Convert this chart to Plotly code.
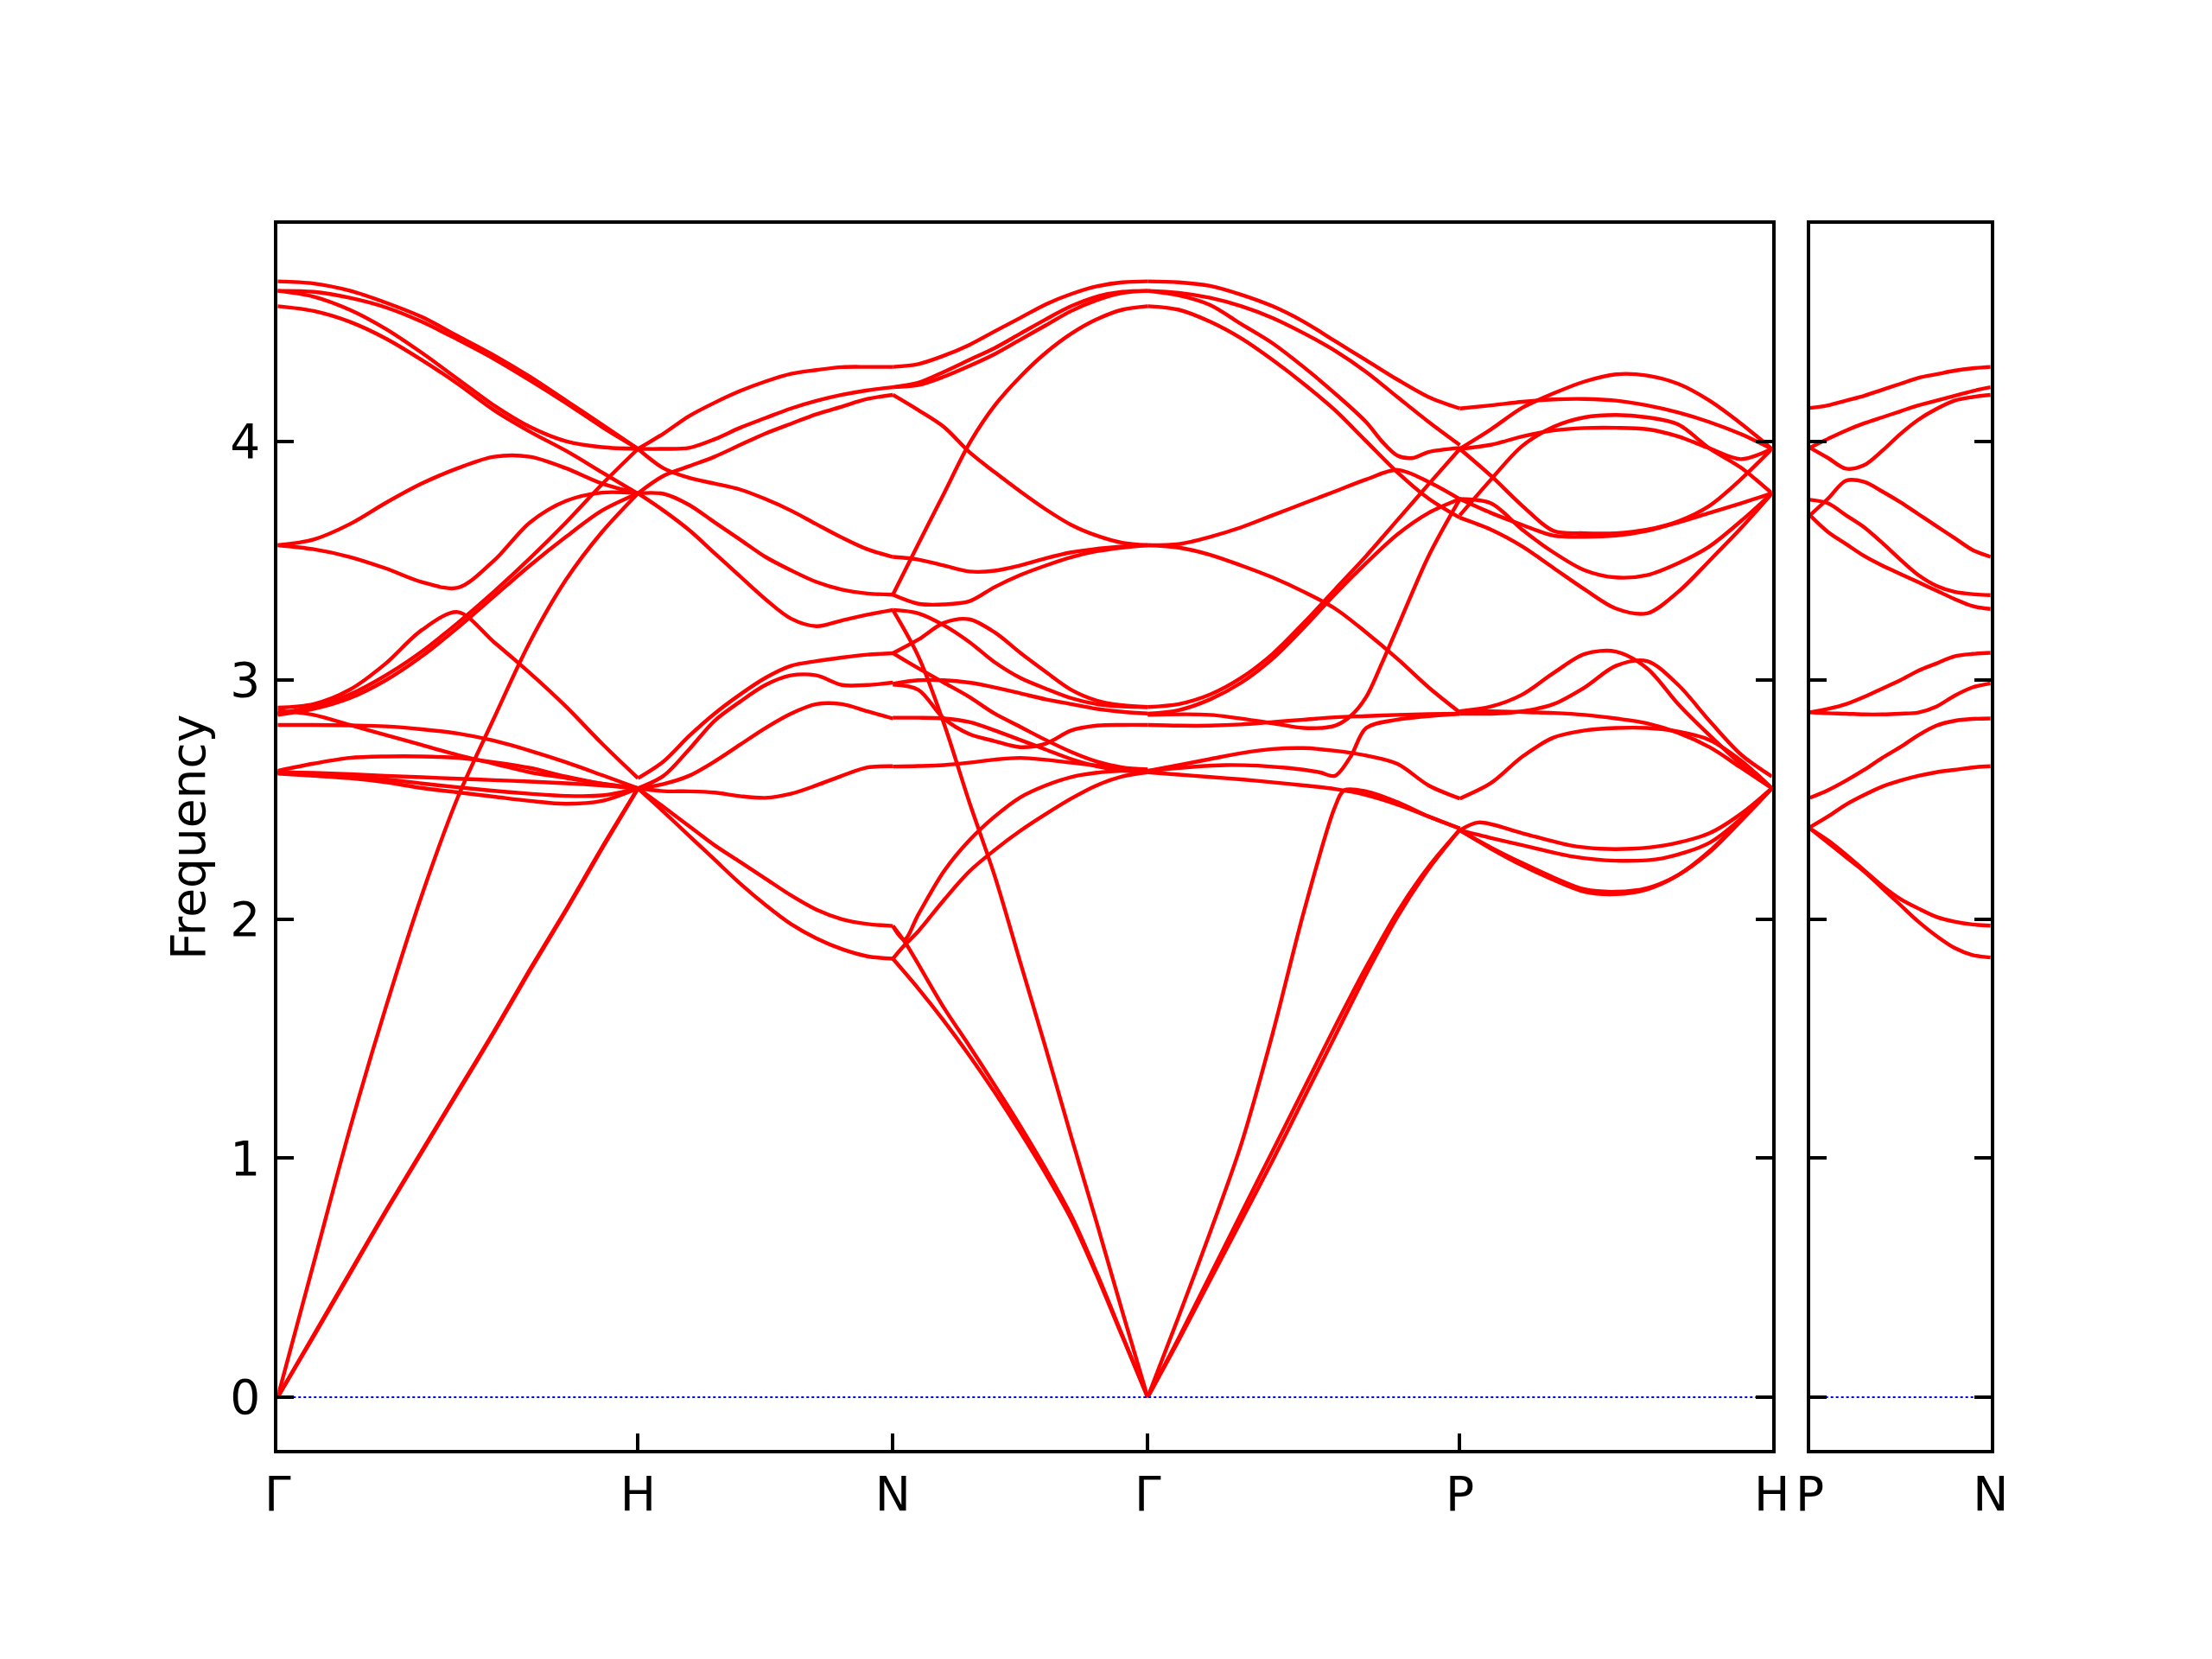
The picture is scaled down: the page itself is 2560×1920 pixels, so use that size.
import plotly.graph_objects as go

FONT = "DejaVu Sans"
RED = "#ff0000"

# ---------------- path / tick data ----------------
main_labels = ["Γ", "H", "N", "Γ", "P", "H"]
main_ticks = [0.0, 1.0, 1.70711, 2.41421, 3.28024, 4.14626]
side_labels = ["P", "N"]
side_ticks = [0.0, 0.5]
y_ticks = [0, 1, 2, 3, 4]
y_range = [-0.222, 4.909]

# common fractional sampling grid along each path segment
grid = [0.0, 0.1, 0.2, 0.3, 0.4, 0.5, 0.6, 0.7, 0.8, 0.9, 1.0]

# ---------------- band values ----------------
# Segment Γ-H
seg_GH = {
    "U1": [4.669, 4.66, 4.63, 4.58, 4.52, 4.44, 4.36, 4.27, 4.17, 4.07, 3.968],
    "U2": [4.629, 4.625, 4.60, 4.56, 4.50, 4.425, 4.345, 4.255, 4.16, 4.06, 3.968],
    "U3": [4.629, 4.605, 4.55, 4.47, 4.37, 4.26, 4.15, 4.06, 4.0, 3.975, 3.968],
    "U4": [4.565, 4.545, 4.50, 4.43, 4.34, 4.24, 4.13, 4.04, 3.96, 3.87, 3.78],
    "P1": [3.565, 3.589, 3.653, 3.742, 3.823, 3.887, 3.935, 3.935, 3.887, 3.823, 3.782],
    "P2": [3.565, 3.548, 3.516, 3.468, 3.411, 3.387, 3.50, 3.66, 3.75, 3.785, 3.782],
    "P3": [2.885, 2.90, 2.96, 3.07, 3.21, 3.285, 3.16, 3.03, 2.89, 2.735, 2.59],
    "P4": [2.86, 2.89, 2.94, 3.02, 3.12, 3.24, 3.37, 3.51, 3.66, 3.82, 3.968],
    "P5": [2.855, 2.88, 2.925, 3.0, 3.10, 3.22, 3.35, 3.48, 3.6, 3.71, 3.782],
    "LA": [0.0, 0.56, 1.12, 1.63, 2.1, 2.51, 2.84, 3.16, 3.42, 3.62, 3.782],
    "TA1": [0.0, 0.26, 0.52, 0.78, 1.03, 1.28, 1.53, 1.79, 2.04, 2.30, 2.548],
    "TA2": [0.0, 0.255, 0.515, 0.775, 1.025, 1.275, 1.525, 1.785, 2.035, 2.295, 2.548],
    "L1": [2.873, 2.855, 2.813, 2.771, 2.729, 2.687, 2.651, 2.615, 2.591, 2.567, 2.548],
    "L2": [2.813, 2.813, 2.811, 2.807, 2.795, 2.777, 2.747, 2.705, 2.657, 2.603, 2.548],
    "L3": [2.621, 2.651, 2.675, 2.681, 2.681, 2.675, 2.657, 2.633, 2.597, 2.567, 2.548],
    "L4": [2.615, 2.612, 2.607, 2.6, 2.594, 2.588, 2.582, 2.576, 2.569, 2.56, 2.548],
    "L5": [2.609, 2.60, 2.59, 2.573, 2.549, 2.531, 2.513, 2.495, 2.483, 2.495, 2.548],
    "L6": [2.612, 2.607, 2.597, 2.585, 2.568, 2.552, 2.537, 2.525, 2.516, 2.518, 2.548],
}

# Segment H-N
seg_HN = {
    "H1": [3.968, 4.032, 4.105, 4.161, 4.21, 4.25, 4.282, 4.298, 4.31, 4.311, 4.311],
    "H2": [3.968, 3.968, 3.972, 4.008, 4.056, 4.097, 4.137, 4.169, 4.194, 4.213, 4.226],
    "H3": [3.782, 3.855, 3.895, 3.935, 3.984, 4.032, 4.073, 4.113, 4.145, 4.177, 4.194],
    "H4": [3.968, 3.887, 3.847, 3.823, 3.798, 3.758, 3.71, 3.653, 3.597, 3.548, 3.516],
    "H5": [3.782, 3.78, 3.734, 3.661, 3.589, 3.516, 3.46, 3.411, 3.379, 3.363, 3.358],
    "H6": [3.782, 3.71, 3.629, 3.532, 3.435, 3.339, 3.258, 3.226, 3.25, 3.274, 3.294],
    "H7": [2.59, 2.66, 2.766, 2.86, 2.94, 3.01, 3.06, 3.08, 3.095, 3.107, 3.113],
    "H8": [2.548, 2.6, 2.71, 2.83, 2.91, 2.98, 3.02, 3.02, 2.98, 2.98, 2.99],
    "H9": [2.548, 2.566, 2.6, 2.66, 2.73, 2.8, 2.86, 2.9, 2.9, 2.87, 2.84],
    "H10": [2.548, 2.536, 2.535, 2.53, 2.515, 2.508, 2.525, 2.56, 2.6, 2.635, 2.64],
    "AC1": [2.548, 2.47, 2.39, 2.31, 2.24, 2.17, 2.10, 2.04, 2.0, 1.98, 1.972],
    "AC2": [2.548, 2.45, 2.35, 2.25, 2.15, 2.06, 1.98, 1.92, 1.875, 1.845, 1.835],
}

# Segment N-Γ
seg_NG = {
    "G1": [4.311, 4.323, 4.358, 4.403, 4.46, 4.516, 4.573, 4.616, 4.648, 4.665, 4.669],
    "G2": [4.226, 4.245, 4.29, 4.34, 4.39, 4.45, 4.51, 4.565, 4.605, 4.625, 4.629],
    "G3": [4.226, 4.235, 4.27, 4.315, 4.365, 4.425, 4.485, 4.545, 4.59, 4.62, 4.629],
    "G4": [3.358, 3.57, 3.78, 3.99, 4.15, 4.27, 4.37, 4.45, 4.51, 4.55, 4.565],
    "G5": [4.194, 4.13, 4.06, 3.955, 3.87, 3.79, 3.715, 3.65, 3.605, 3.575, 3.565],
    "G6": [3.516, 3.505, 3.48, 3.455, 3.458, 3.48, 3.51, 3.535, 3.55, 3.56, 3.565],
    "G7": [3.358, 3.32, 3.317, 3.33, 3.39, 3.44, 3.48, 3.515, 3.54, 3.555, 3.565],
    "G8": [3.113, 3.17, 3.24, 3.255, 3.2, 3.115, 3.035, 2.96, 2.915, 2.895, 2.888],
    "G13": [3.294, 3.28, 3.23, 3.16, 3.075, 3.01, 2.965, 2.925, 2.9, 2.89, 2.888],
    "G14": [2.985, 3.0, 3.0, 2.99, 2.97, 2.945, 2.92, 2.9, 2.88, 2.868, 2.861],
    "G9": [3.113, 3.05, 2.99, 2.93, 2.86, 2.805, 2.75, 2.7, 2.66, 2.635, 2.627],
    "G10": [2.982, 2.96, 2.84, 2.775, 2.745, 2.72, 2.735, 2.79, 2.81, 2.813, 2.813],
    "G11": [2.843, 2.843, 2.84, 2.825, 2.79, 2.75, 2.71, 2.67, 2.64, 2.622, 2.615],
    "G12": [2.639, 2.641, 2.645, 2.655, 2.668, 2.675, 2.667, 2.655, 2.643, 2.63, 2.62],
    "R1": ([0, .045, .1, .2, .3, .4, .5, .6, .7, .8, .9, 1.0],
           [1.972, 1.915, 2.02, 2.2, 2.33, 2.43, 2.51, 2.56, 2.595, 2.613, 2.621, 2.625]),
    "R2": ([0, .04, .1, .2, .3, .4, .5, .6, .7, .8, .9, 1.0],
           [1.835, 1.885, 1.95, 2.08, 2.2, 2.29, 2.37, 2.44, 2.505, 2.56, 2.597, 2.615]),
    "D1": [1.835, 1.71, 1.575, 1.43, 1.275, 1.11, 0.935, 0.745, 0.51, 0.255, 0.0],
    "D2": ([0, .05, .2, .3, .4, .5, .6, .7, .8, .9, 1.0],
           [1.972, 1.9, 1.63, 1.47, 1.305, 1.135, 0.955, 0.76, 0.52, 0.26, 0.0]),
    "LA2": [3.294, 3.1, 2.82, 2.49, 2.18, 1.82, 1.46, 1.09, 0.73, 0.36, 0.0],
}

# Segment Γ-P
seg_GP = {
    "T1": [4.669, 4.665, 4.65, 4.613, 4.565, 4.5, 4.419, 4.339, 4.258, 4.185, 4.137],
    "T2": [4.629, 4.621, 4.6, 4.565, 4.516, 4.452, 4.379, 4.29, 4.185, 4.081, 3.984],
    "T3": ([0, .1, .2, .3, .4, .5, .6, .7, .75, .8, .85, .9, 1.0],
           [4.629, 4.61, 4.57, 4.49, 4.41, 4.31, 4.2, 4.08, 4.0, 3.94, 3.93, 3.955, 3.972]),
    "T4": [4.565, 4.55, 4.5, 4.43, 4.34, 4.24, 4.13, 4.0, 3.87, 3.76, 3.68],
    "M1": [3.565, 3.57, 3.6, 3.64, 3.69, 3.74, 3.79, 3.84, 3.88, 3.83, 3.758],
    "M2": [3.565, 3.555, 3.525, 3.48, 3.43, 3.37, 3.3, 3.2, 3.09, 2.97, 2.865],
    "PP1": [2.888, 2.9, 2.94, 3.01, 3.11, 3.24, 3.38, 3.52, 3.67, 3.82, 3.968],
    "PP2": [2.86, 2.875, 2.92, 2.99, 3.09, 3.22, 3.36, 3.49, 3.61, 3.7, 3.758],
    "Q1": ([0, .1, .2, .3, .4, .5, .6, .63, .7, .8, .9, 1.0],
           [0.0, 0.34, 0.69, 1.06, 1.52, 2.03, 2.47, 2.54, 2.535, 2.49, 2.43, 2.38]),
    "Q2": ([0, .25, .45, .55, .6, .65, .7, .8, 1.0],
           [2.621, 2.645, 2.633, 2.615, 2.6, 2.68, 2.8, 2.835, 2.86]),
    "Q3": ([0, .2, .4, .5, .6, .65, .7, .75, .8, .9, 1.0],
           [2.855, 2.855, 2.82, 2.8, 2.81, 2.85, 2.93, 3.07, 3.22, 3.52, 3.758]),
    "Q4": [2.813, 2.81, 2.81, 2.815, 2.825, 2.835, 2.845, 2.85, 2.855, 2.858, 2.86],
    "Q5": [2.621, 2.645, 2.67, 2.695, 2.712, 2.716, 2.705, 2.685, 2.65, 2.56, 2.505],
    "Q6": [2.615, 2.605, 2.595, 2.585, 2.573, 2.56, 2.545, 2.52, 2.48, 2.43, 2.38],
    "TA3": [0.0, 0.25, 0.51, 0.77, 1.03, 1.29, 1.55, 1.8, 2.03, 2.22, 2.375],
    "TA4": [0.0, 0.24, 0.49, 0.74, 0.99, 1.25, 1.51, 1.77, 2.01, 2.21, 2.375],
}

# Segment P-H
seg_PH = {
    "PH1": [4.137, 4.15, 4.165, 4.175, 4.177, 4.17, 4.15, 4.12, 4.08, 4.03, 3.968],
    "PH2": [3.968, 4.05, 4.14, 4.2, 4.25, 4.28, 4.275, 4.24, 4.17, 4.075, 3.968],
    "PH3": [3.968, 3.985, 4.02, 4.045, 4.055, 4.056, 4.05, 4.02, 3.97, 3.925, 3.968],
    "PH4": [3.69, 3.84, 3.98, 4.06, 4.1, 4.11, 4.1, 4.07, 3.97, 3.89, 3.782],
    "PH5": [3.968, 3.855, 3.73, 3.625, 3.615, 3.615, 3.63, 3.665, 3.73, 3.84, 3.968],
    "PH6": [3.758, 3.7, 3.65, 3.605, 3.6, 3.605, 3.625, 3.66, 3.7, 3.74, 3.782],
    "PH7": [3.758, 3.74, 3.63, 3.535, 3.46, 3.43, 3.44, 3.49, 3.56, 3.665, 3.782],
    "PH8": [3.68, 3.63, 3.56, 3.47, 3.38, 3.3, 3.28, 3.37, 3.5, 3.635, 3.782],
    "PH9": [2.87, 2.89, 2.94, 3.03, 3.11, 3.12, 3.05, 2.9, 2.77, 2.65, 2.548],
    "PH10": [2.86, 2.86, 2.87, 2.9, 2.97, 3.06, 3.08, 2.98, 2.83, 2.69, 2.597],
    "PH11": [2.87, 2.87, 2.867, 2.863, 2.855, 2.84, 2.82, 2.78, 2.72, 2.635, 2.548],
    "PH12": [2.505, 2.57, 2.68, 2.76, 2.79, 2.8, 2.8, 2.785, 2.75, 2.665, 2.548],
    "PHa": ([0, .06, .2, .35, .45, .55, .66, .8, .9, 1.0],
            [2.372, 2.405, 2.36, 2.31, 2.295, 2.295, 2.31, 2.36, 2.44, 2.548]),
    "PHb": ([0, .1, .2, .35, .5, .65, .8, .9, 1.0],
            [2.372, 2.34, 2.31, 2.265, 2.245, 2.255, 2.32, 2.42, 2.548]),
    "PHc": [2.372, 2.3, 2.235, 2.175, 2.125, 2.115, 2.13, 2.185, 2.28, 2.41, 2.548],
    "PHd": [2.372, 2.295, 2.225, 2.165, 2.115, 2.105, 2.125, 2.185, 2.285, 2.415, 2.548],
}

# Side panel P-N
seg_PN = {
    "PN1": [4.139, 4.15, 4.17, 4.19, 4.215, 4.24, 4.265, 4.28, 4.295, 4.305, 4.311],
    "PN2": [3.973, 4.01, 4.045, 4.075, 4.1, 4.125, 4.15, 4.17, 4.19, 4.21, 4.226],
    "PN3": [3.973, 3.93, 3.885, 3.9, 3.96, 4.03, 4.09, 4.135, 4.17, 4.185, 4.194],
    "PN4": [3.69, 3.76, 3.835, 3.83, 3.79, 3.745, 3.695, 3.645, 3.595, 3.545, 3.516],
    "PN5": [3.755, 3.74, 3.69, 3.64, 3.575, 3.505, 3.44, 3.395, 3.37, 3.36, 3.356],
    "PN6": [3.69, 3.62, 3.57, 3.52, 3.48, 3.445, 3.41, 3.375, 3.34, 3.31, 3.298],
    "PN7": [2.866, 2.88, 2.9, 2.93, 2.965, 3.0, 3.04, 3.07, 3.1, 3.11, 3.115],
    "PN8": [2.866, 2.862, 2.86, 2.857, 2.857, 2.86, 2.865, 2.89, 2.935, 2.97, 2.987],
    "PN9": [2.508, 2.54, 2.58, 2.625, 2.675, 2.72, 2.77, 2.81, 2.83, 2.838, 2.84],
    "PN10": [2.385, 2.43, 2.48, 2.52, 2.555, 2.58, 2.6, 2.615, 2.625, 2.635, 2.64],
    "PN11": [2.38, 2.33, 2.27, 2.205, 2.14, 2.085, 2.045, 2.01, 1.99, 1.978, 1.973],
    "PN12": [2.38, 2.32, 2.26, 2.2, 2.13, 2.06, 1.99, 1.93, 1.88, 1.85, 1.84],
}

main_segments = [seg_GH, seg_HN, seg_NG, seg_GP, seg_PH]

# ---------------- figure ----------------
fig = go.Figure()


def add_segment(seg, x0, x1, xa, ya):
    for name, data in seg.items():
        if isinstance(data, tuple):
            fr, vals = data
        else:
            fr, vals = grid, data
        xs = [x0 + f * (x1 - x0) for f in fr]
        fig.add_trace(go.Scatter(
            x=xs, y=vals, mode="lines", name=name, xaxis=xa, yaxis=ya,
            line=dict(color=RED, width=4.4, shape="spline", smoothing=0.9),
            hoverinfo="skip", showlegend=False))


for i, seg in enumerate(main_segments):
    add_segment(seg, main_ticks[i], main_ticks[i + 1], "x", "y")
add_segment(seg_PN, side_ticks[0], side_ticks[1], "x2", "y2")

# zero-frequency reference lines
fig.add_trace(go.Scatter(x=[main_ticks[0], main_ticks[-1]], y=[0, 0], mode="lines",
                         line=dict(color="blue", width=2, dash="dot"),
                         xaxis="x", yaxis="y", showlegend=False, hoverinfo="skip"))
fig.add_trace(go.Scatter(x=[side_ticks[0], side_ticks[-1]], y=[0, 0], mode="lines",
                         line=dict(color="blue", width=2, dash="dot"),
                         xaxis="x2", yaxis="y2", showlegend=False, hoverinfo="skip"))

common = dict(showline=True, linecolor="black", linewidth=4,
              ticks="inside", ticklen=19, tickwidth=4, tickcolor="black",
              showgrid=False, zeroline=False, automargin=False,
              tickfont=dict(family=FONT, size=55, color="black"))

ydom = [0.1258, 0.8650]
fig.update_layout(
    width=2560, height=1920,
    margin=dict(l=0, r=0, t=0, b=0),
    paper_bgcolor="white", plot_bgcolor="white",
    showlegend=False,
    font=dict(family=FONT, size=55, color="black"),
    xaxis=dict(domain=[0.1255, 0.80105], range=[main_ticks[0], main_ticks[-1]],
               tickmode="array", tickvals=main_ticks, ticktext=main_labels,
               mirror=True, ticklabelstandoff=0, **common),
    yaxis=dict(domain=ydom, range=y_range, tickmode="array", tickvals=y_ticks,
               ticktext=[str(v) for v in y_ticks], ticklabelstandoff=5,
               mirror="ticks",
               title=dict(text="Frequency", standoff=12,
                          font=dict(family=FONT, size=55, color="black")),
               **common),
    xaxis2=dict(domain=[0.81824, 0.89992], range=[side_ticks[0], side_ticks[-1]],
                anchor="y2", tickmode="array", tickvals=side_ticks, ticktext=side_labels,
                mirror=True, ticklabelstandoff=0, **common),
    yaxis2=dict(domain=ydom, range=y_range, anchor="x2", tickmode="array",
                tickvals=y_ticks, showticklabels=False, mirror="ticks", **common),
)

fig.write_html("out.html", config={"displayModeBar": False},
               post_script="document.body.style.margin='0px';")
